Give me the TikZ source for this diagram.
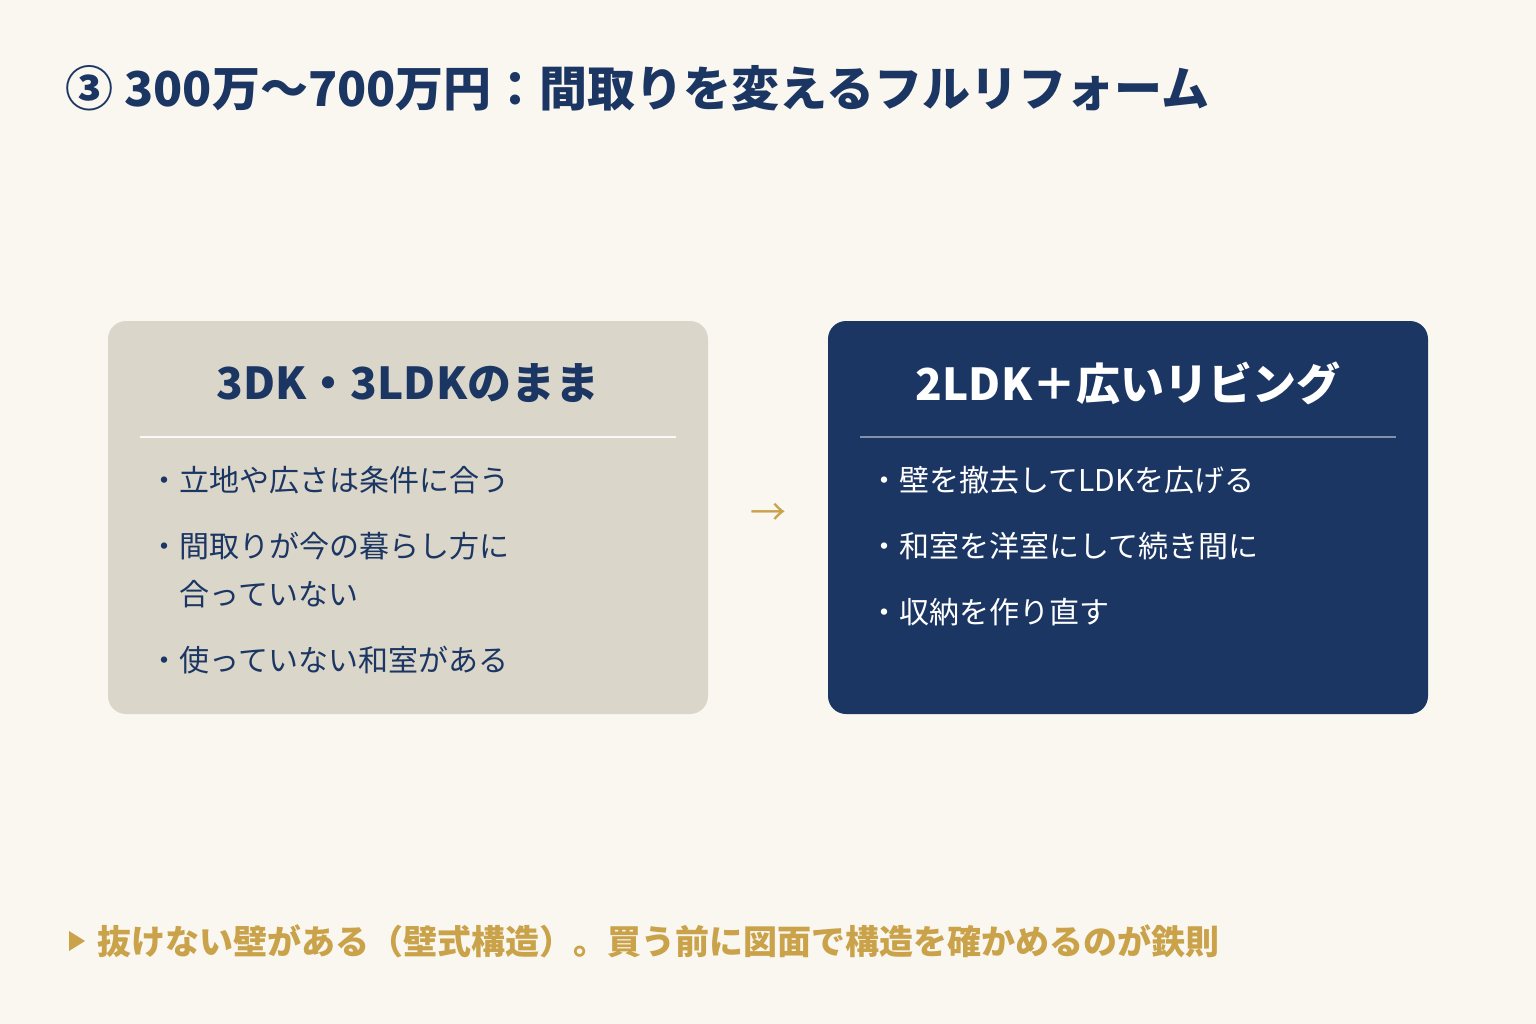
\documentclass[tikz,border=0pt]{standalone}
\usepackage{fontspec}
\setmainfont{Noto Sans CJK JP}
\newfontfamily\jpb{Noto Sans CJK JP}[FakeBold=0,BoldFont={* Bold}]
\definecolor{bg}{HTML}{FAF7F0}
\definecolor{navy}{HTML}{1C3664}
\definecolor{beige}{HTML}{DAD6C9}
\definecolor{gold}{HTML}{C9A24A}
\begin{document}
\begin{tikzpicture}[x=1pt,y=-1pt,
  box/.style={rounded corners=18pt},
  head/.style={anchor=center,font=\fontsize{44}{48}\selectfont\bfseries},
  item/.style={anchor=west,font=\fontsize{30}{38}\selectfont,align=left}]
\fill[bg] (0,0) rectangle (1536,1024);
\node[anchor=west,text=navy,font=\fontsize{48}{56}\selectfont\bfseries] (title) at (62,88) {③ 300万〜700万円：間取りを変えるフルリフォーム};
\fill[beige,box] (108,321) rectangle (708,714);
\fill[navy,box] (828,321) rectangle (1428,714);
\node[head,text=navy] (h1) at (408,383) {3DK・3LDKのまま};
\node[head,text=white] (h2) at (1128,383) {2LDK＋広いリビング};
\draw[white!85!beige,line width=2pt] (140,437) -- (676,437);
\draw[white!45!navy,line width=2pt] (860,437) -- (1396,437);
\begin{scope}[text=navy]
\node[item] (a1) at (146,480) {・立地や広さは条件に合う};
\node[item] (a2) at (146,546) {・間取りが今の暮らし方に};
\node[item] (a3) at (146,594) {\hspace{1em}合っていない};
\node[item] (a4) at (146,660) {・使っていない和室がある};
\end{scope}
\begin{scope}[text=white]
\node[item] (b1) at (866,480) {・壁を撤去してLDKを広げる};
\node[item] (b2) at (866,546) {・和室を洋室にして続き間に};
\node[item] (b3) at (866,612) {・収納を作り直す};
\end{scope}
\node[text=gold,font=\fontsize{36}{40}\selectfont] (arr) at (768,514) {→};
\fill[gold] (69,931) -- (85,941) -- (69,951) -- cycle;
\node[anchor=west,text=gold,font=\fontsize{34}{40}\selectfont\bfseries] (note) at (94,941) {抜けない壁がある（壁式構造）。買う前に図面で構造を確かめるのが鉄則};
\end{tikzpicture}
\end{document}
